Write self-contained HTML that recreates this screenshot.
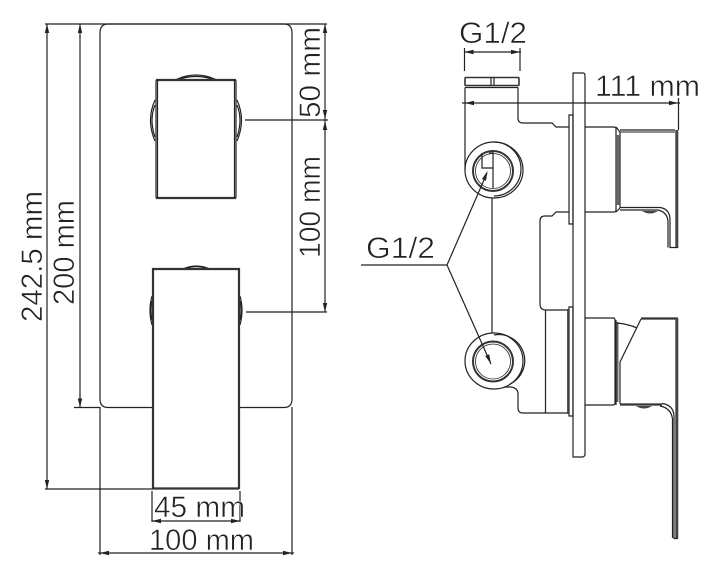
<!DOCTYPE html>
<html><head><meta charset="utf-8"><style>
html,body{margin:0;padding:0;background:#fff}
svg{display:block}
text{font-family:"Liberation Sans",sans-serif;fill:#222;font-size:30px;stroke:#fff;stroke-width:.55px}
.l{fill:none;stroke:#222;stroke-width:1.2}
.t{fill:none;stroke:#333;stroke-width:2.2}
.k{fill:none;stroke:#444;stroke-width:3}
.a{fill:#222;stroke:none}
</style></head><body>
<svg width="720" height="580" viewBox="0 0 720 580" xmlns="http://www.w3.org/2000/svg">
<!-- Left view: plate -->
<path class="l" d="M153 407.500H108Q100 407.500 100 399V33Q100 24 108 24H284Q292 24 292 33V399Q292 407.500 284 407.500H239"/>
<!-- Top handle -->
<path class="l" d="M175 80Q196 70 217 80M180 79Q196 74 212 79"/>
<path class="l" d="M155 100Q146 120 155 141M155 105Q149 120 155 137M237 100Q246 120 237 141M237 105Q243 120 237 137"/>
<rect x="156" y="80" width="80" height="118" rx="1" class="l" stroke-width="1.500"/>
<path class="t" d="M156 80H236M156 198H236"/>
<path class="l" d="M157.500 80V198M234.500 80V198"/>
<!-- Lower handle -->
<path class="l" d="M183 269Q196 263 210 269M187 268Q196 265 206 268"/>
<path class="l" d="M152 296Q148 310 152 325M152 301Q150 310 152 320M240 296Q244 310 240 325M240 301Q242 310 240 320"/>
<path class="t" d="M153 489V269H239V489"/>
<path class="t" d="M153 488.500H239"/>
<!-- Left dimensions -->
<path class="l" d="M45 24H327M47 24V489M80 24V407.500M74 407.500H100M45 489H153"/>
<path class="l" d="M325 24V120M325 120V312M245 120H328M246 312H327"/>
<path class="l" d="M100 407V555M292 407V555M98 553H294M152 491V522M240 491V522M152 521H240"/>
<path class="a" d="M47 24l-2.200 9h4.400zM80 24l-2.200 9h4.400zM47 489l-2.200-9h4.400zM80 407.500l-2.200-9h4.400zM325 24l-2.200 9h4.400zM325 119l-2.200-9h4.400zM325 121l-2.200 9h4.400zM325 312l-2.200-9h4.400zM100 553l9-2.200v4.400zM292 553l-9-2.200v4.400zM152 521l9-2.200v4.400zM240 521l-9-2.200v4.400z"/>
<text transform="rotate(-90 42 322)" x="42" y="322" textLength="131" lengthAdjust="spacingAndGlyphs">242.5 mm</text>
<text transform="rotate(-90 74 305)" x="74" y="305" textLength="105" lengthAdjust="spacingAndGlyphs">200 mm</text>
<text transform="rotate(-90 320 118)" x="320" y="118" textLength="91" lengthAdjust="spacingAndGlyphs">50 mm</text>
<text transform="rotate(-90 320 258)" x="320" y="258" textLength="102" lengthAdjust="spacingAndGlyphs">100 mm</text>
<text x="154" y="517" textLength="91" lengthAdjust="spacingAndGlyphs">45 mm</text>
<text x="149" y="550" textLength="105" lengthAdjust="spacingAndGlyphs">100 mm</text>
<!-- Right view: cap and body -->
<rect x="465" y="77.500" width="54" height="8" rx="1" class="t" style="stroke-width:1.600"/>
<path class="l" d="M491 77.500V85.500M494 77.500V85.500M465 87.500H518"/>
<path class="l" d="M465 87.500V170M518 87.500V118Q518 123 523 123H552L556 127H569"/>
<!-- Upper port -->
<ellipse cx="494" cy="170" rx="29" ry="28" class="l"/>
<path class="l" d="M494 142A26 26 0 0 1 494 196"/>
<circle cx="493" cy="171" r="20" class="t" style="stroke-width:2"/>
<circle cx="493" cy="171" r="17.500" class="l" style="stroke-width:.8"/>
<path class="l" d="M482 153V168H493M493 152V188"/>
<path class="t" d="M489 153H493" style="stroke-width:1"/>
<path class="l" d="M492 198V333"/>
<!-- Lower port -->
<ellipse cx="494" cy="361" rx="29" ry="28" class="l"/>
<path class="l" d="M494 335A26 26 0 0 1 510 384"/>
<circle cx="493" cy="361.500" r="20" class="t" style="stroke-width:2"/>
<circle cx="493" cy="361.500" r="17.500" class="l" style="stroke-width:.8"/>
<path class="l" d="M504 387H511Q518 388 518 394V408Q518 413 523 413H569"/>
<path class="l" d="M545.500 310V413M545.500 310H568"/>
<path class="l" d="M569 212H556L552 216H545Q540 216 540 221V304Q540 310 546 310"/>
<!-- Leader -->
<path class="l" d="M361 265H447L487 173M447 265L491 364"/>
<path class="a" d="M487.500 171l-5.500 8 4 1.800zM491 364l-5.800-8 4-1.800z"/>
<!-- Flange and plate -->
<path class="l" d="M569 115H573V224H569ZM569 307H573V416H569Z"/>
<path class="k" d="M568 309V414" style="stroke-width:1.800"/>
<path class="l" d="M573 73H583Q585 73 585 76V454Q585 457 582 457H573Z"/>
<!-- Upper cylinder and handle -->
<path class="l" d="M585 127H614Q616 127 616 129V210Q616 212 614 212H585"/>
<path class="k" d="M618 135V205" style="stroke-width:2.500;stroke:#666"/>
<path class="l" d="M616 127L620 132M616 212L620 208"/>
<path class="l" d="M620 132V208M620 130H675"/>
<path class="l" d="M620 132H675" style="stroke-width:1"/>
<path class="k" d="M676.800 130V248"/>
<path class="l" d="M620 207.500H660Q670 209 670 220V247.500H678"/>
<path class="l" d="M620 210H658Q667 212 668 221V247.500"/>
<path d="M642 211Q650 216 658 211Z" fill="#444"/>
<!-- Lower cylinder and handle -->
<path class="l" d="M585 318H613Q615 318 615 320V403Q615 405 613 405H585"/>
<path class="k" d="M617.500 322V402" style="stroke-width:2;stroke:#666"/>
<path class="l" d="M616 320V405M620 362V404"/>
<path class="l" d="M617 323Q628 324 637 328"/>
<path class="l" d="M620 362L641 319"/>
<path class="t" d="M641 318.500H678"/>
<path class="k" d="M676.800 318V538"/>
<path class="t" d="M620 404.500H662"/>
<path class="l" d="M662 403.500Q674 405 674 417V538.500H678"/>
<path class="l" d="M660 406Q671 408 672.500 419V538"/>
<path d="M636 406Q644 411 652 406Z" fill="#444"/>
<!-- Right dimensions -->
<path class="l" d="M464.500 48V71M520 48V71M464 52H521M462 103H680M678.500 98V130"/>
<path class="a" d="M464.500 52l9-2.200v4.400zM520 52l-9-2.200v4.400zM465 103l9-2.200v4.400zM678 103l-9-2.200v4.400z"/>
<text x="459" y="43" textLength="68" lengthAdjust="spacingAndGlyphs">G1/2</text>
<text x="366" y="258" textLength="69" lengthAdjust="spacingAndGlyphs">G1/2</text>
<text x="595" y="96" textLength="105" lengthAdjust="spacingAndGlyphs">111 mm</text>
</svg>
</body></html>
